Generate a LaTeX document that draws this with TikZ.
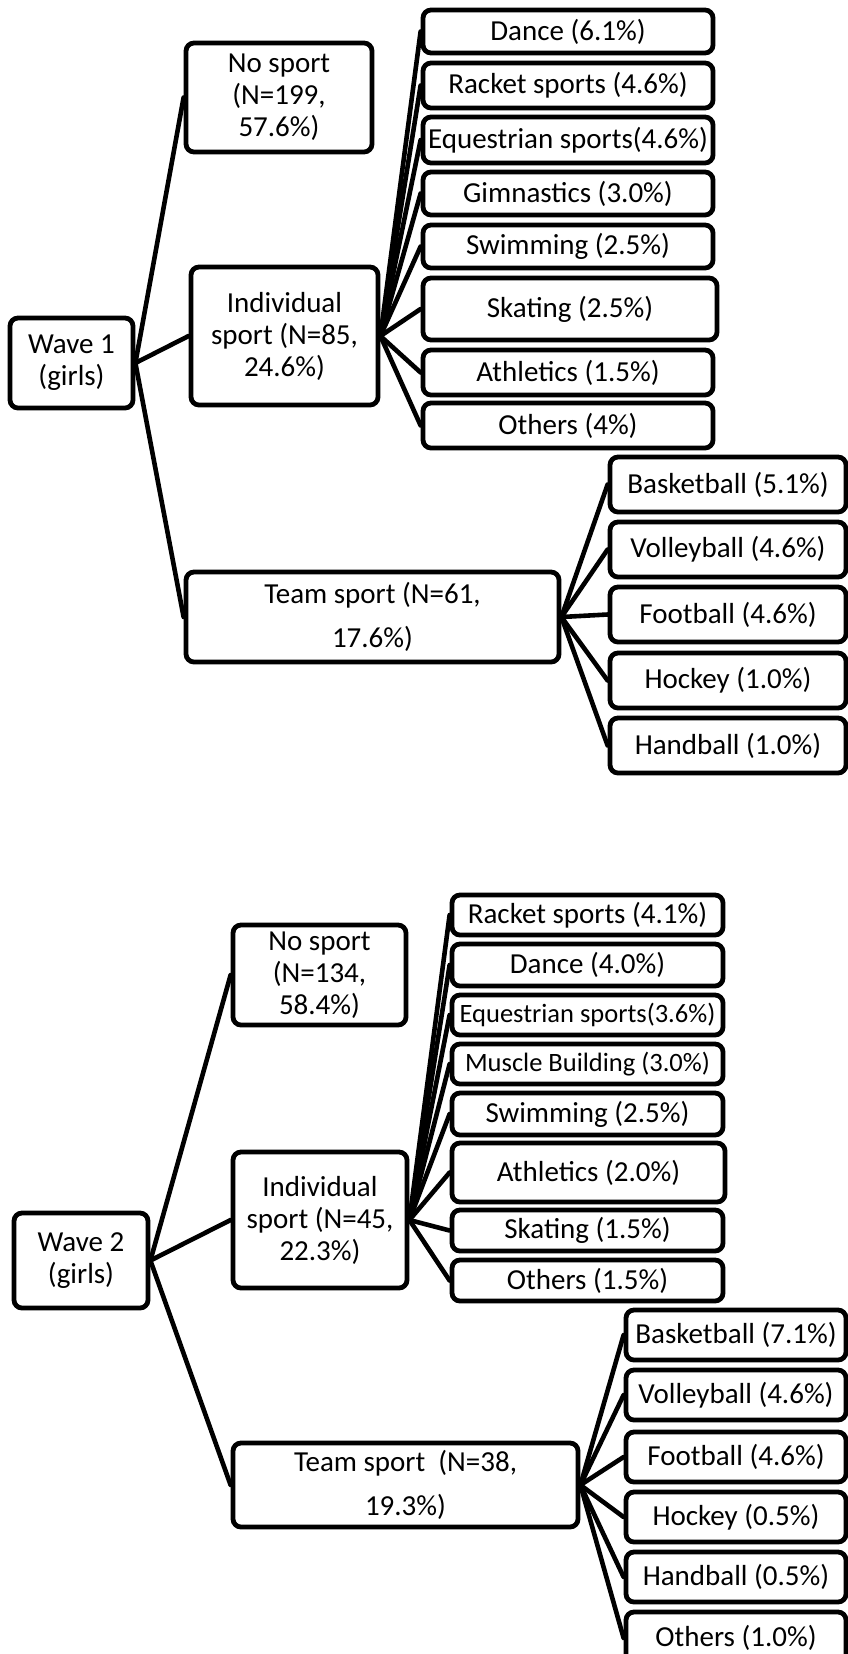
\documentclass[tikz,border=0pt]{standalone}
\usepackage{fontspec}
\setmainfont{Carlito}
\tikzset{
  bx/.style={draw=black, line width=4.8pt, rounded corners=8pt, inner sep=0pt, align=center,
    font=\fontsize{29}{32}\selectfont},
  small/.style={font=\fontsize{26.5}{30}\selectfont},
  conn/.style={draw=black, line width=4.6pt, line cap=round}
}
\newcommand\bxn[7][]{\node[bx,#1, minimum width={(#5-#3)*1pt}, minimum height={(#6-#4)*1pt}] (#2) at ({(#3+#5)/2},{-(#4+#6)/2}) {#7};}
\begin{document}
\begin{tikzpicture}[x=1pt,y=1pt]
\useasboundingbox (0,0) rectangle (848,-1654);
\clip (0,0) rectangle (848,-1654);
% Wave 1
\bxn{w1}{10}{318}{133}{408}{Wave 1\\(girls)}
\bxn{nsa}{186}{43}{372}{152}{No sport\\(N=199,\\57.6\%)}
\bxn{ina}{191}{267}{378}{405}{Individual\\sport (N=85,\\24.6\%)}
\bxn{tsa}{186}{572}{559}{662}{Team sport (N=61,\\[12pt]17.6\%)}
\bxn{da}{423}{10}{713}{53}{Dance (6.1\%)}
\bxn{ra}{423}{63}{713}{108}{Racket sports (4.6\%)}
\bxn{eqa}{423}{117}{713}{163}{Equestrian sports(4.6\%)}
\bxn{gia}{423}{172}{713}{215}{Gimnastics (3.0\%)}
\bxn{swa}{423}{225}{713}{268}{Swimming (2.5\%)}
\bxn{ska}{423}{278}{717}{340}{Skating (2.5\%)}
\bxn{ata}{423}{350}{713}{395}{Athletics (1.5\%)}
\bxn{ota}{423}{403}{713}{448}{Others (4\%)}
\bxn{bba}{610}{457}{846}{512}{Basketball (5.1\%)}
\bxn{vba}{610}{522}{846}{577}{Volleyball (4.6\%)}
\bxn{fba}{610}{587}{846}{642}{Football (4.6\%)}
\bxn{hka}{610}{653}{846}{708}{Hockey (1.0\%)}
\bxn{hba}{610}{718}{846}{773}{Handball (1.0\%)}
\foreach \t in {nsa,ina,tsa} \draw[conn] (w1.east) -- (\t.west);
\foreach \t in {da,ra,eqa,gia,swa,ska,ata,ota} \draw[conn] (ina.east) -- (\t.west);
\foreach \t in {bba,vba,fba,hka,hba} \draw[conn] (tsa.east) -- (\t.west);
% Wave 2
\bxn{w2}{14}{1213}{148}{1308}{Wave 2\\(girls)}
\bxn{nsb}{233}{925}{406}{1025}{No sport\\(N=134,\\58.4\%)}
\bxn{inb}{233}{1152}{407}{1288}{Individual\\sport (N=45,\\22.3\%)}
\bxn{tsb}{233}{1443}{578}{1527}{Team sport\ \ (N=38,\\[12pt]19.3\%)}
\bxn{rab}{452}{895}{723}{935}{Racket sports (4.1\%)}
\bxn{dab}{452}{944}{723}{986}{Dance (4.0\%)}
\bxn[small]{eqb}{452}{995}{723}{1035}{Equestrian sports(3.6\%)}
\bxn[small]{mbb}{452}{1044}{723}{1084}{Muscle Building (3.0\%)}
\bxn{swb}{452}{1093}{723}{1135}{Swimming (2.5\%)}
\bxn{atb}{452}{1143}{725}{1202}{Athletics (2.0\%)}
\bxn{skb}{452}{1210}{723}{1251}{Skating (1.5\%)}
\bxn{otb}{452}{1260}{723}{1301}{Others (1.5\%)}
\bxn{bbb}{626}{1310}{846}{1360}{Basketball (7.1\%)}
\bxn{vbb}{626}{1370}{846}{1420}{Volleyball (4.6\%)}
\bxn{fbb}{626}{1432}{846}{1482}{Football (4.6\%)}
\bxn{hkb}{626}{1492}{846}{1542}{Hockey (0.5\%)}
\bxn{hbb}{626}{1552}{846}{1602}{Handball (0.5\%)}
\bxn{obb}{626}{1612}{846}{1664}{Others (1.0\%)}
\foreach \t in {nsb,inb,tsb} \draw[conn] (w2.east) -- (\t.west);
\foreach \t in {rab,dab,eqb,mbb,swb,atb,skb,otb} \draw[conn] (inb.east) -- (\t.west);
\foreach \t in {bbb,vbb,fbb,hkb,hbb,obb} \draw[conn] (tsb.east) -- (\t.west);
\end{tikzpicture}
\end{document}
